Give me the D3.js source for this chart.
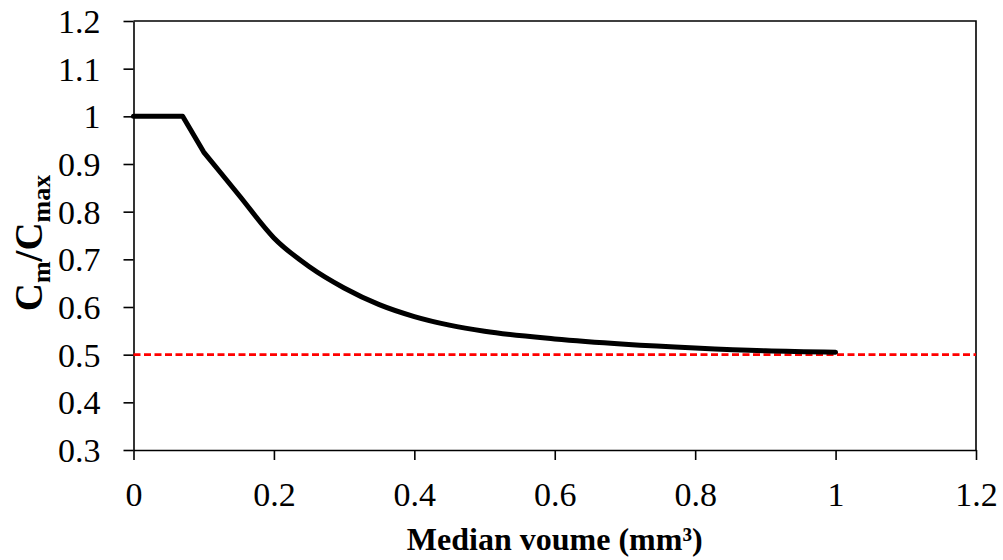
<!DOCTYPE html>
<html>
<head>
<meta charset="utf-8">
<script src="https://cdn.jsdelivr.net/npm/d3@7"></script>
<style>
  body { margin: 0; background: #fff; }
  svg { display: block; font-family: "Liberation Serif", "Times New Roman", serif; }
  .axis text { font-size: 34px; fill: #000; }
  .axis path, .axis line { stroke: #000; stroke-width: 1.6; }
</style>
</head>
<body>
<div id="chart"></div>
<script>
const volume = [0, 0.07, 0.1, 0.15, 0.2, 0.25, 0.3, 0.35, 0.4, 0.45, 0.5, 0.6, 0.7, 0.8, 0.9, 1.0];
const ratio  = [1, 1, 0.925, 0.835, 0.745, 0.685, 0.64, 0.605, 0.58, 0.562, 0.549, 0.533, 0.522, 0.514, 0.508, 0.505];
const limitValue = 0.5;
const xTicks = [0, 0.2, 0.4, 0.6, 0.8, 1, 1.2];
const yTicks = [0.3, 0.4, 0.5, 0.6, 0.7, 0.8, 0.9, 1, 1.1, 1.2];

const width = 1003, height = 560;
const margin = { left: 133.5, right: 27, top: 21, bottom: 110 };

const svg = d3.select("#chart").append("svg")
  .attr("width", width).attr("height", height);

const x = d3.scaleLinear().domain([0, 1.2]).range([margin.left, width - margin.right]);
const y = d3.scaleLinear().domain([0.3, 1.2]).range([height - margin.bottom, margin.top]);
const fmt = d3.format(".1~f");

// frame: top and right lines
svg.append("path")
  .attr("d", `M${x(0)},${y(1.2)}H${x(1.2)}V${y(0.3)}`)
  .attr("fill", "none").attr("stroke", "#000").attr("stroke-width", 1.6);

svg.append("g")
  .attr("class", "axis")
  .attr("transform", `translate(0,${y(0.3)})`)
  .call(d3.axisBottom(x).tickValues(xTicks).tickFormat(fmt).tickSize(10).tickSizeOuter(0).tickPadding(22));

svg.append("g")
  .attr("class", "axis")
  .attr("transform", `translate(${x(0)},0)`)
  .call(d3.axisLeft(y).tickValues(yTicks).tickFormat(fmt).tickSize(10).tickSizeOuter(0).tickPadding(23))
  .call(g => g.selectAll("text").attr("dy", "0.34em"));

svg.selectAll(".axis").attr("font-family", null).attr("font-size", null);

// dashed limit
svg.append("line")
  .attr("x1", x(0)).attr("x2", x(1.2))
  .attr("y1", y(limitValue)).attr("y2", y(limitValue))
  .attr("stroke", "#ff0000").attr("stroke-width", 2.6)
  .attr("stroke-dasharray", "7,3.5");

// curve: straight plateau and first drop, smooth tail
const pts = volume.map((v, i) => [x(v), y(ratio[i])]);
const head = d3.line()(pts.slice(0, 3));
const tail = d3.line().curve(d3.curveMonotoneX)(pts.slice(2));
svg.append("path")
  .attr("d", head + "L" + tail.slice(1))
  .attr("fill", "none").attr("stroke", "#000").attr("stroke-width", 5)
  .attr("stroke-linejoin", "round").attr("stroke-linecap", "round");

// x title
svg.append("text")
  .attr("x", (x(0) + x(1.2)) / 2).attr("y", 550)
  .attr("text-anchor", "middle")
  .attr("font-size", 32).attr("font-weight", "bold")
  .text("Median voume (mm³)");

// y title
const yt = svg.append("text")
  .attr("transform", "translate(42,243) rotate(-90)")
  .attr("text-anchor", "middle")
  .attr("font-weight", "bold").attr("font-size", 39);
yt.append("tspan").text("C");
yt.append("tspan").attr("font-size", 26).attr("dy", 8).text("m");
yt.append("tspan").attr("dy", -8).text("/C");
yt.append("tspan").attr("font-size", 26).attr("dy", 8).text("max");
</script>
</body>
</html>
